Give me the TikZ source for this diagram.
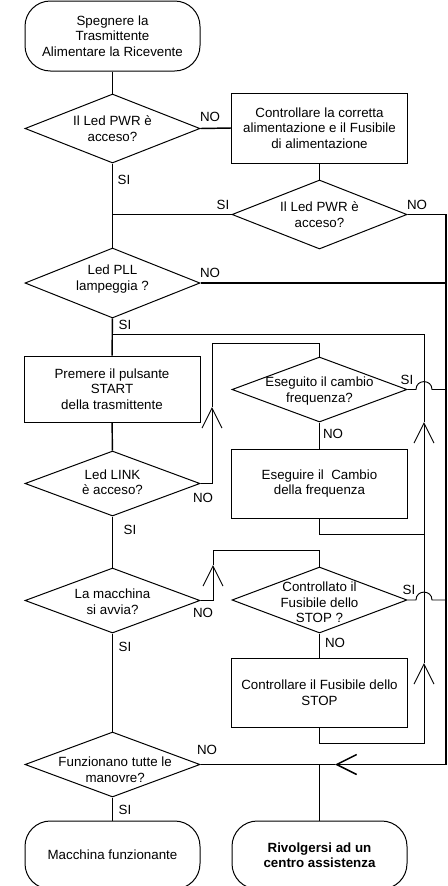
\documentclass[tikz,border=0pt]{standalone}
\usepackage{fontspec}
\setmainfont{Liberation Sans}
\usetikzlibrary{arrows.meta,shapes.geometric}

\begin{document}
\begin{tikzpicture}[x=0.75pt, y=-0.75pt, >={Straight Barb[length=15pt,width=15pt]},
  txt/.style={font=\fontsize{10}{11.6}\selectfont, align=center},
  term/.style={draw, line width=0.75pt, rounded corners=19pt, inner sep=0pt, minimum width=131.25pt, minimum height=52pt, txt},
  decision/.style={draw, diamond, aspect=2.5, inner sep=0pt, line width=0.75pt, minimum width=131.25pt},
  procbox/.style={draw, rectangle, line width=0.75pt, inner sep=0pt, minimum width=131.5pt, minimum height=52pt, txt},
  lbl/.style={txt, inner sep=0pt},
  flow/.style={line width=1.1pt},
  back/.style={line width=0.7pt}]
  \useasboundingbox (0,0) rectangle (448,886);

  % terminals
  \node[term, minimum height=52.5pt] (t1) at (112.5,36) {Spegnere la\\Trasmittente\\Alimentare la Ricevente};
  \node[term, minimum height=51pt] (t2) at (112.5,855) {Macchina funzionante};
  \node[term, minimum height=51pt, font=\fontsize{10}{11.6}\selectfont\bfseries] (t3) at (319.5,855) {Rivolgersi ad un\\centro assistenza};

  % decisions (text set as centre label, so the diamond keeps its size)
  \node[decision, minimum height=51.75pt, label={[txt]center:Il Led PWR è\\acceso?}] (d1) at (112.5,128.5) {};
  \node[decision, minimum height=51.75pt, label={[txt]center:Il Led PWR è\\acceso?}] (d2) at (319.5,214.5) {};
  \node[decision, minimum height=52.5pt, label={[txt, yshift=3pt]center:Led PLL\\lampeggia ?}] (d3) at (112.5,283) {};
  \node[decision, minimum height=48.75pt, label={[txt, yshift=1pt]center:Led LINK\\è acceso?}] (d4) at (112.5,483.5) {};
  \node[decision, minimum height=48.75pt, label={[txt, yshift=-1pt]center:Eseguito il cambio\\frequenza?}] (d5) at (319.5,389.5) {};
  \node[decision, minimum height=48.75pt, label={[txt, yshift=-1pt]center:La macchina\\si avvia?}] (d6) at (112.5,600.5) {};
  \node[decision, minimum height=49.5pt, label={[txt, yshift=-2pt]center:Controllato il\\Fusibile dello\\STOP ?}] (d7) at (319.5,600) {};
  \node[decision, minimum height=48.75pt, label={[txt, yshift=-4pt, xshift=2pt]center:Funzionano tutte le\\manovre?}] (d8) at (112.5,764.5) {};

  % process boxes
  \node[procbox, minimum width=132pt, minimum height=52.5pt] (b1) at (319.5,128) {Controllare la corretta\\alimentazione e il Fusibile\\di alimentazione};
  \node[procbox, minimum width=132pt, minimum height=49.5pt] (b2) at (112,389) {Premere il pulsante\\START\\della trasmittente};
  \node[procbox, minimum height=51.75pt] (b3) at (319.5,483.5) {Eseguire il\ \ Cambio\\della frequenza};
  \node[procbox, minimum height=51.75pt] (b4) at (319.5,692.5) {Controllare il Fusibile dello\\STOP};

  % branch labels
  \node[lbl] (l1) at (210,117) {NO};
  \node[lbl] (l2) at (124,180) {SI};
  \node[lbl] (l3) at (223,205) {SI};
  \node[lbl] (l4) at (417,205) {NO};
  \node[lbl] (l5) at (210,273) {NO};
  \node[lbl] (l6) at (125,325) {SI};
  \node[lbl] (l7) at (407,380) {SI};
  \node[lbl] (l8) at (333,434) {NO};
  \node[lbl] (l9) at (203,498) {NO};
  \node[lbl] (l10) at (130,530) {SI};
  \node[lbl] (l11) at (203,613) {NO};
  \node[lbl] (l12) at (409,590) {SI};
  \node[lbl] (l13) at (335,643) {NO};
  \node[lbl] (l14) at (125,647) {SI};
  \node[lbl] (l15) at (207,750) {NO};
  \node[lbl] (l16) at (125,810) {SI};

  % bends and junctions
  \coordinate (j1) at (112.5,214.5);
  \coordinate (r1) at (446,214.5);
  \coordinate (r2) at (446,283);
  \coordinate (r3) at (446,389.5);
  \coordinate (r4) at (446,600);
  \coordinate (r5) at (446,764.5);
  \coordinate (ar) at (335,764.5);
  \coordinate (j2) at (319.5,764.5);
  \coordinate (k1) at (112.5,334);
  \coordinate (k2) at (424,334);
  \coordinate (k3) at (424,422);
  \coordinate (k4) at (424,534);
  \coordinate (k5) at (424,663);
  \coordinate (k6) at (424,743);
  \coordinate (e1) at (319.5,534);
  \coordinate (e2) at (319.5,743);
  \coordinate (n1) at (212,483.5);
  \coordinate (n2) at (212,407);
  \coordinate (n3) at (212,343);
  \coordinate (n4) at (319.5,343);
  \coordinate (m1) at (213,600.5);
  \coordinate (m2) at (213,565);
  \coordinate (m3) at (213,550);
  \coordinate (m4) at (319.5,550);
  \coordinate (h1) at (416,389.5);
  \coordinate (h2) at (432,389.5);
  \coordinate (h3) at (416,600);
  \coordinate (h4) at (432,600);

  % main column
  \draw[flow] (t1) -- (d1);
  \draw[flow] (d1) -- (d3);
  \draw[flow] (d3) -- (b2);
  \draw[flow] (b2) -- (d4);
  \draw[flow] (d4) -- (d6);
  \draw[flow] (d6) -- (d8);
  \draw[flow] (d8) -- (t2);

  % PWR off: check supply, test again
  \draw[flow] (d1.east) -- (b1.west);
  \draw[flow] (b1) -- (d2);
  \draw[flow] (d2.west) -- (j1);

  % right rail down to the help centre
  \draw[flow, ->] (d2.east) -- (r1) -- (r5) -- (ar);
  \draw[flow] (ar) -- (j2);
  \draw[flow] (d3.east) -- (r2);
  \draw[flow] (d8.east) -- (j2) -- (t3);

  % LINK off: frequency change
  \draw[back, ->] (d4.east) -- (n1) -- (n2);
  \draw[back] (n2) -- (n3) -- (n4) -- (d5);
  \draw[back] (d5) -- (b3);
  \draw[back] (b3.south) -- (e1) -- (k4);
  \draw[back] (d5.east) -- (h1) .. controls (416,379) and (432,379) .. (h2) -- (r3);

  % no start: STOP fuse
  \draw[back, ->] (d6.east) -- (m1) -- (m2);
  \draw[back] (m2) -- (m3) -- (m4) -- (d7);
  \draw[back] (d7) -- (b4);
  \draw[back] (d7.east) -- (h3) .. controls (416,589.5) and (432,589.5) .. (h4) -- (r4);

  % return line up to START
  \draw[back, ->] (b4.south) -- (e2) -- (k6) -- (k5);
  \draw[back, ->] (k5) -- (k3);
  \draw[back] (k3) -- (k2) -- (k1);
\end{tikzpicture}
\end{document}
